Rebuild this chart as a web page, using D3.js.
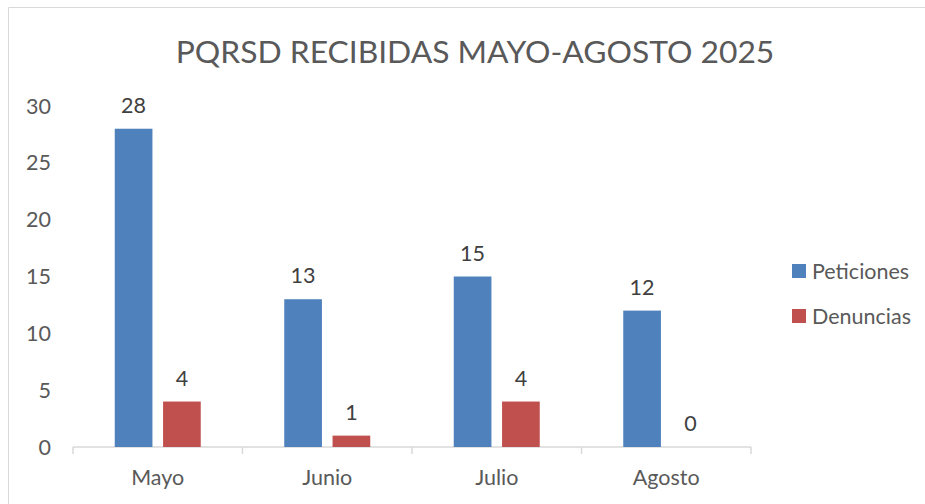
<!DOCTYPE html>
<html lang="es">
  <head>
    <meta charset="utf-8" />
    <title>PQRSD recibidas mayo-agosto 2025</title>
    <script src="https://d3js.org/d3.v7.min.js"></script>
    <style>
      html, body { margin: 0; padding: 0; background: #fff; }
      svg { display: block; font-family: Lato, "Open Sans", sans-serif; }
    </style>
  </head>
  <body>
    <div id="chart"></div>
    <script>
      // values
      const months = ["Mayo", "Junio", "Julio", "Agosto"];
      const seriesNames = ["Peticiones", "Denuncias"];
      const peticiones = [28, 13, 15, 12];
      const denuncias = [4, 1, 4, 0];
      const yTicks = [0, 5, 10, 15, 20, 25, 30];
      const colors = ["#4f81bd", "#c0504d"];

      const width = 925;
      const height = 504;
      const margin = { top: 106, right: 174, bottom: 57, left: 73 };
      const fs = 21.5;

      const data = months.map(function (m, i) {
        return { month: m, values: [peticiones[i], denuncias[i]] };
      });

      const svg = d3
        .select("#chart")
        .append("svg")
        .attr("width", width)
        .attr("height", height);

      // chart area frame (only top and left edges are in view)
      svg.append("path")
        .attr("d", "M8.5," + height + "V7.5H" + width)
        .attr("fill", "none")
        .attr("stroke", "#d9d9d9");

      svg.append("text")
        .attr("x", 475)
        .attr("y", 63)
        .attr("text-anchor", "middle")
        .attr("font-size", 31.8)
        .attr("fill", "#595959")
        .text("PQRSD RECIBIDAS MAYO-AGOSTO 2025");

      const x0 = d3.scaleBand()
        .domain(months)
        .range([margin.left, width - margin.right]);

      const x1 = d3.scaleBand()
        .domain(seriesNames)
        .range([0, 86])
        .paddingInner(0.22);

      const y = d3.scaleLinear()
        .domain([0, 30])
        .range([height - margin.bottom, margin.top]);

      const y0 = y(0);

      // y tick labels, no axis line
      svg.append("g")
        .selectAll("text")
        .data(yTicks)
        .join("text")
        .attr("x", 51)
        .attr("y", function (d) { return y(d); })
        .attr("dy", "0.35em")
        .attr("text-anchor", "end")
        .attr("font-size", fs)
        .attr("fill", "#595959")
        .text(function (d) { return d; });

      // x axis
      const xAxis = svg.append("g").attr("transform", "translate(0," + y0 + ")");
      xAxis.append("line")
        .attr("x1", margin.left)
        .attr("x2", width - margin.right)
        .attr("stroke", "#d9d9d9")
        .attr("stroke-width", 1.5);
      xAxis.selectAll(".tick")
        .data(months.concat([null]))
        .join("line")
        .attr("class", "tick")
        .attr("x1", function (d, i) { return margin.left + i * x0.bandwidth(); })
        .attr("x2", function (d, i) { return margin.left + i * x0.bandwidth(); })
        .attr("y1", 0)
        .attr("y2", 7)
        .attr("stroke", "#d9d9d9")
        .attr("stroke-width", 1.5);
      xAxis.selectAll(".lbl")
        .data(months)
        .join("text")
        .attr("class", "lbl")
        .attr("x", function (d) { return x0(d) + x0.bandwidth() / 2; })
        .attr("y", 38)
        .attr("text-anchor", "middle")
        .attr("font-size", fs)
        .attr("fill", "#595959")
        .text(function (d) { return d; });

      const groups = svg.append("g")
        .selectAll("g")
        .data(data)
        .join("g")
        .attr("transform", function (d) {
          return "translate(" + (x0(d.month) + x0.bandwidth() / 2 - 43) + ",0)";
        });

      groups.selectAll("rect")
        .data(function (d) { return d.values; })
        .join("rect")
        .attr("x", function (d, i) { return x1(seriesNames[i]); })
        .attr("width", x1.bandwidth())
        .attr("y", function (d) { return y(d); })
        .attr("height", function (d) { return y0 - y(d); })
        .attr("fill", function (d, i) { return colors[i]; });

      groups.selectAll("text")
        .data(function (d) { return d.values; })
        .join("text")
        .attr("x", function (d, i) { return x1(seriesNames[i]) + x1.bandwidth() / 2; })
        .attr("y", function (d) { return y(d) - 16; })
        .attr("text-anchor", "middle")
        .attr("font-size", fs)
        .attr("fill", "#404040")
        .text(function (d) { return d; });

      // legend
      const legend = svg.append("g")
        .selectAll("g")
        .data(seriesNames)
        .join("g")
        .attr("transform", function (d, i) {
          return "translate(792," + (264 + i * 45) + ")";
        });
      legend.append("rect")
        .attr("width", 14)
        .attr("height", 14)
        .attr("fill", function (d, i) { return colors[i]; });
      legend.append("text")
        .attr("x", 20)
        .attr("y", 7)
        .attr("dy", "0.35em")
        .attr("font-size", fs)
        .attr("fill", "#595959")
        .text(function (d) { return d; });
    </script>
  </body>
</html>
